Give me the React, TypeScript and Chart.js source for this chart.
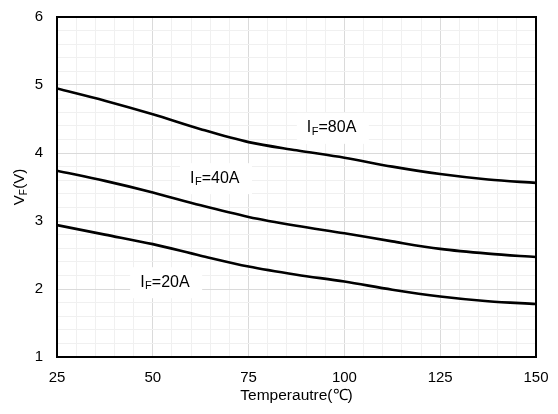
import React, { useEffect, useRef } from "react";
import { Chart, registerables } from "chart.js";

Chart.register(...registerables);

// Junction temperature (°C)
const temperatures = [25, 37.5, 50, 62.5, 75, 87.5, 100, 112.5, 125, 137.5, 150];
// Forward voltage VF (V) per forward current
const vf80A = [4.95, 4.77, 4.57, 4.35, 4.16, 4.04, 3.93, 3.8, 3.69, 3.61, 3.56];
const vf40A = [3.74, 3.59, 3.42, 3.23, 3.06, 2.93, 2.82, 2.7, 2.59, 2.52, 2.47];
const vf20A = [2.94, 2.8, 2.66, 2.49, 2.33, 2.21, 2.11, 1.99, 1.89, 1.82, 1.78];

// Curve labels: current value and anchor (temperature, voltage)
const curveLabels = [
  { current: "80A", x: 90.2, y: 4.37 },
  { current: "40A", x: 59.7, y: 3.63 },
  { current: "20A", x: 46.7, y: 2.1 },
];

const FONT = "Arial, 'Liberation Sans', sans-serif";

const isMajor = (v: number, step: number) => Math.abs(v / step - Math.round(v / step)) < 1e-6;

const decorPlugin = {
  id: "decor",
  beforeDatasetsDraw(chart: any) {
    const { ctx, scales } = chart;
    ctx.save();
    ctx.textBaseline = "middle";
    for (const l of curveLabels) {
      const px = scales.x.getPixelForValue(l.x);
      const py = scales.y.getPixelForValue(l.y);
      ctx.fillStyle = "#ffffff";
      ctx.fillRect(px - 10, py - 15, 72, 31);
    }
    for (const l of curveLabels) {
      const px = scales.x.getPixelForValue(l.x);
      const py = scales.y.getPixelForValue(l.y);
      ctx.fillStyle = "#000000";
      ctx.font = `16px ${FONT}`;
      ctx.fillText("I", px, py);
      let w = ctx.measureText("I").width;
      ctx.font = `11px ${FONT}`;
      ctx.fillText("F", px + w + 0.5, py + 4);
      w += ctx.measureText("F").width + 0.5;
      ctx.font = `16px ${FONT}`;
      ctx.fillText("=" + l.current, px + w, py);
    }
    ctx.restore();
  },
  afterDatasetsDraw(chart: any) {
    const { ctx, chartArea } = chart;
    ctx.save();
    ctx.strokeStyle = "#000000";
    ctx.lineWidth = 2;
    ctx.strokeRect(
      chartArea.left,
      chartArea.top,
      chartArea.right - chartArea.left,
      chartArea.bottom - chartArea.top
    );
    // Y axis title: V with subscript F, then (V)
    const cy = (chartArea.top + chartArea.bottom) / 2;
    ctx.translate(20, cy);
    ctx.rotate(-Math.PI / 2);
    ctx.fillStyle = "#000000";
    ctx.textBaseline = "middle";
    ctx.font = `15px ${FONT}`;
    const wV = ctx.measureText("V").width;
    const wRest = ctx.measureText("(V)").width;
    ctx.font = `10px ${FONT}`;
    const wF = ctx.measureText("F").width;
    const total = wV + wF + 0.5 + wRest;
    let x = -total / 2;
    ctx.font = `15px ${FONT}`;
    ctx.fillText("V", x, 0);
    x += wV;
    ctx.font = `10px ${FONT}`;
    ctx.fillText("F", x, 4);
    x += wF + 0.5;
    ctx.font = `15px ${FONT}`;
    ctx.fillText("(V)", x, 0);
    ctx.restore();
  },
};

export default function App() {
  const canvasRef = useRef<HTMLCanvasElement | null>(null);

  useEffect(() => {
    if (!canvasRef.current) return;
    const mk = (vals: number[]) => temperatures.map((t, i) => ({ x: t, y: vals[i] }));
    const lineStyle = {
      borderColor: "#000000",
      borderWidth: 2.6,
      pointRadius: 0,
      fill: false,
      cubicInterpolationMode: "monotone" as const,
    };
    const chart = new Chart(canvasRef.current, {
      type: "line",
      data: {
        datasets: [
          { label: "IF=80A", data: mk(vf80A), ...lineStyle },
          { label: "IF=40A", data: mk(vf40A), ...lineStyle },
          { label: "IF=20A", data: mk(vf20A), ...lineStyle },
        ],
      },
      options: {
        animation: false,
        responsive: false,
        maintainAspectRatio: false,
        layout: { padding: { top: 17, right: 22, left: 0, bottom: 0 } },
        plugins: { legend: { display: false }, tooltip: { enabled: false } },
        scales: {
          x: {
            type: "linear",
            min: 25,
            max: 150,
            afterFit: (s: any) => {
              s.height = 57;
              s.paddingLeft = 0;
              s.paddingRight = 0;
            },
            border: { display: false },
            grid: {
              drawTicks: false,
              color: (c: any) => (isMajor(c.tick?.value ?? 0, 25) ? "#dadada" : "#f0f0f0"),
              lineWidth: 1,
            },
            ticks: {
              stepSize: 5,
              autoSkip: false,
              maxRotation: 0,
              padding: 12,
              color: "#000000",
              font: { family: FONT, size: 15 },
              callback: (v: any) => (isMajor(Number(v), 25) ? String(v) : ""),
            },
            title: {
              display: true,
              text: "Temperautre(℃)",
              color: "#000000",
              font: { family: FONT, size: 15.5 },
              padding: { top: 4, bottom: 9 },
            },
          },
          y: {
            type: "linear",
            min: 1,
            max: 6,
            afterFit: (s: any) => {
              s.width = 57;
              s.paddingTop = 0;
              s.paddingBottom = 0;
            },
            border: { display: false },
            grid: {
              drawTicks: false,
              color: (c: any) => (isMajor(c.tick?.value ?? 0, 1) ? "#dadada" : "#f0f0f0"),
              lineWidth: 1,
            },
            ticks: {
              stepSize: 0.2,
              autoSkip: false,
              padding: 14,
              color: "#000000",
              font: { family: FONT, size: 15 },
              callback: (v: any) => (isMajor(Number(v), 1) ? String(Math.round(Number(v))) : ""),
            },
          },
        },
      },
      plugins: [decorPlugin],
    });
    return () => chart.destroy();
  }, []);

  return (
    <div style={{ position: "fixed", left: 0, top: 0, width: 558, height: 414, background: "#ffffff" }}>
      <canvas ref={canvasRef} width={558} height={414} style={{ width: 558, height: 414 }} />
    </div>
  );
}
